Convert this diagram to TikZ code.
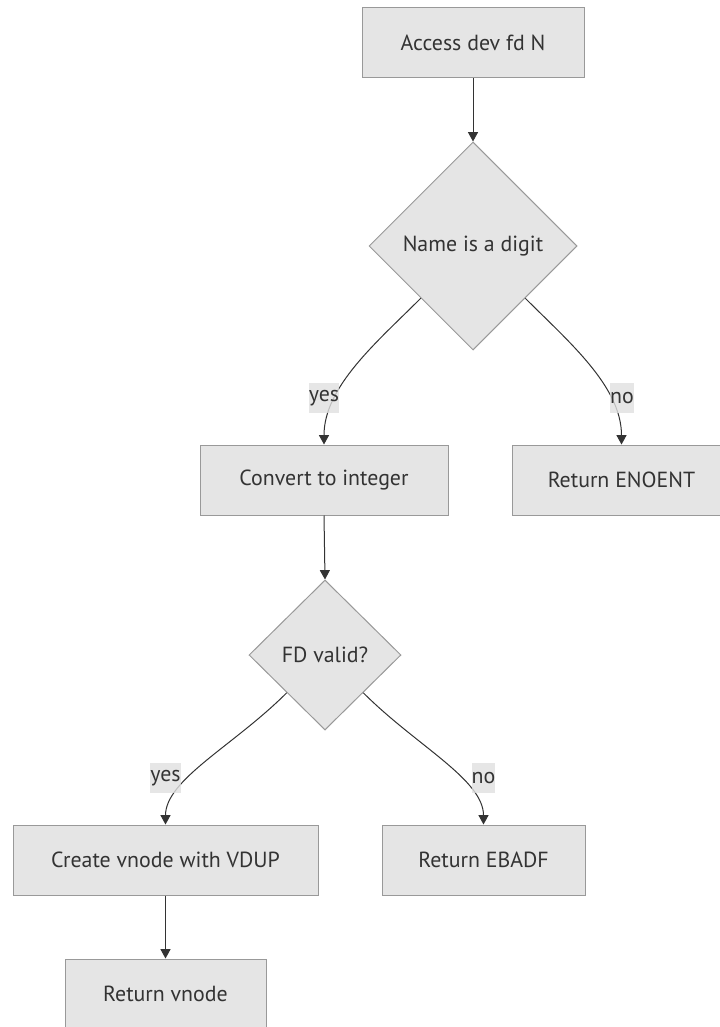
\documentclass[tikz,border=0pt]{standalone}
\usepackage{fontspec}
\setmainfont{PT Sans}
\usetikzlibrary{shapes.geometric,arrows.meta}

\definecolor{boxfill}{HTML}{E5E5E5}
\definecolor{boxline}{HTML}{999999}
\definecolor{edgecol}{HTML}{333333}
\definecolor{textcol}{HTML}{333333}
\definecolor{labelbg}{HTML}{E0E0E0}

\tikzset{
  diagfont/.style={font=\fontsize{16.4pt}{19pt}\selectfont},
  procbox/.style={draw=boxline, fill=boxfill, line width=0.75pt, inner sep=0pt,
    minimum height=52.5pt, text=textcol, diagfont},
  decision/.style={diamond, aspect=1, draw=boxline, fill=boxfill, line width=0.75pt,
    inner sep=0pt, text=textcol, diagfont},
  flow/.style={draw=edgecol, line width=0.75pt, -{Triangle[width=7.5pt,length=7pt]}},
  edgelabel/.style={fill=labelbg, fill opacity=0.8, text opacity=1, text=textcol,
    inner xsep=0pt, inner ysep=0pt, minimum height=22.5pt, diagfont},
}

\begin{document}
\begin{tikzpicture}[x=0.75pt, y=-0.75pt]
  \useasboundingbox (0,0) rectangle (720,1027);

  % steps and decisions
  \node[procbox, minimum width=166.5pt] (access) at (473,43) {Access dev fd N};
  \node[decision, minimum width=156pt, minimum height=156pt] (isdigit) at (473,246) {Name is a digit};
  \node[procbox, minimum width=186pt] (convert) at (324,480) {Convert to integer};
  \node[procbox, minimum width=164.25pt] (enoent) at (621.5,480) {Return ENOENT};
  \node[decision, minimum width=114pt, minimum height=112.5pt] (fdvalid) at (325,655) {FD valid?};
  \node[procbox, minimum width=228.75pt] (create) at (165.5,860) {Create vnode with VDUP};
  \node[procbox, minimum width=152.25pt] (ebadf) at (483.5,860) {Return EBADF};
  \node[procbox, minimum width=150.75pt] (vnode) at (165.5,994) {Return vnode};

  % connectors (y grows downward, so 135 deg points down-left, 270 deg points up)
  \draw[flow] (access.south) -- (isdigit.north);
  \draw[flow] (isdigit.south west) .. controls +(135:62) and +(270:58) .. (convert.north);
  \draw[flow] (isdigit.south east) .. controls +(45:62) and +(270:58) .. (enoent.north);
  \draw[flow] (convert.south) -- (fdvalid.north);
  \draw[flow] (fdvalid.south west) .. controls +(135:75) and +(270:45) .. (create.north);
  \draw[flow] (fdvalid.south east) .. controls +(45:75) and +(270:45) .. (ebadf.north);
  \draw[flow] (create.south) -- (vnode.north);

  % branch labels
  \node[edgelabel] (yes1) at (324,398) {yes};
  \node[edgelabel] (no1) at (622,398) {no};
  \node[edgelabel] (yes2) at (165.5,778) {yes};
  \node[edgelabel] (no2) at (483.5,778) {no};
\end{tikzpicture}
\end{document}
